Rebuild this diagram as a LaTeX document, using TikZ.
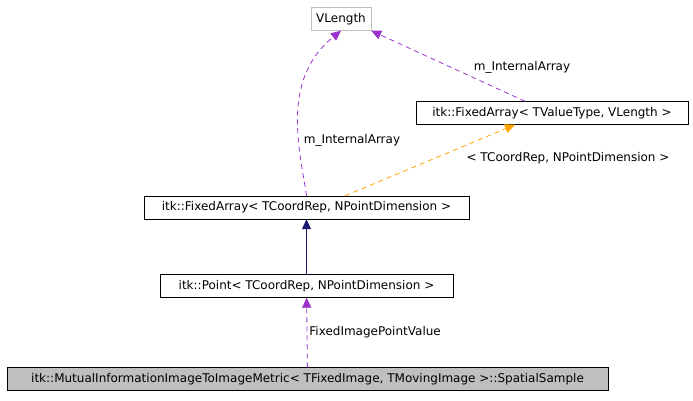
\documentclass[tikz,border=0pt]{standalone}
\usepackage{fontspec}
\setmainfont{DejaVu Sans}
\usetikzlibrary{arrows.meta}
\definecolor{usecol}{RGB}{154,50,205}
\definecolor{inhcol}{RGB}{25,25,112}
\definecolor{tmplcol}{RGB}{255,165,0}
\tikzset{
    cls/.style={draw=black, inner sep=0pt, minimum height=23pt, font=\fontsize{12}{14}\selectfont},
    ext/.style={cls, draw=gray!50},
    uses/.style={dash pattern=on 5pt off 4pt, line width=0.8pt, draw=usecol, -{Triangle[fill=usecol, length=10pt, width=9pt]}},
    inh/.style={line width=0.8pt, draw=inhcol, -{Triangle[fill=inhcol, length=10pt, width=9pt]}},
    tmpl/.style={dash pattern=on 5pt off 4pt, line width=0.8pt, draw=tmplcol, -{Triangle[fill=tmplcol, length=10pt, width=9pt]}},
    lbl/.style={font=\fontsize{12}{14}\selectfont, fill=white, inner sep=1pt}
}
\begin{document}
\begin{tikzpicture}[x=1pt, y=-1pt]
\useasboundingbox (0,0) rectangle (693,400);

\node[ext, minimum width=60pt] (vlen) at (341,19) {VLength};
\node[cls, minimum width=272pt] (farrV) at (552,113) {itk::FixedArray< TValueType, VLength >};
\node[cls, minimum width=325pt] (farrC) at (306.5,207.5) {itk::FixedArray< TCoordRep, NPointDimension >};
\node[cls, minimum width=293pt] (point) at (306.5,286) {itk::Point< TCoordRep, NPointDimension >};
\node[cls, fill=gray!50, minimum width=601pt] (sample) at (307.5,379) {itk::MutualInformationImageToImageMetric< TFixedImage, TMovingImage >::SpatialSample};

\draw[inh] (point) -- (farrC);
\draw[uses] (sample) -- node[lbl, right, xshift=1pt]{FixedImagePointValue} (point);
\draw[uses] (farrC.north) .. controls (300,150) and (280,80) .. (vlen.south);
\node[lbl] (lblA) at (352,140) {m\_InternalArray};
\draw[uses] (farrV.north -| 525,0) -- (vlen.south east);
\node[lbl] (lblB) at (522,67) {m\_InternalArray};
\draw[tmpl] (farrC.north -| 345,0) -- (farrV.south -| 515,0);
\node[lbl] (lblC) at (568,158) {< TCoordRep, NPointDimension >};
\end{tikzpicture}
\end{document}
